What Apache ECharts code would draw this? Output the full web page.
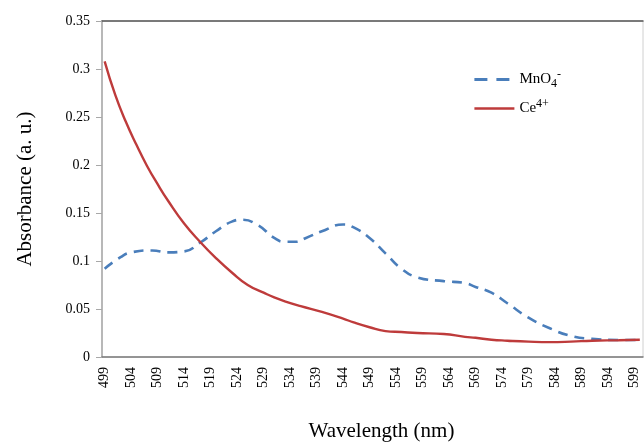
<!DOCTYPE html>
<html>
<head>
<meta charset="utf-8">
<script src="https://cdn.jsdelivr.net/npm/echarts@6/dist/echarts.min.js"></script>
<style>
  html, body { margin: 0; padding: 0; background: #fff; }
  #chart { width: 644px; height: 443px; }
</style>
</head>
<body>
<div id="chart"></div>
<script>
// wavelength ticks shown on the x axis (nm)
const wavelengthTicks = [499, 504, 509, 514, 519, 524, 529, 534, 539, 544, 549,
  554, 559, 564, 569, 574, 579, 584, 589, 594, 599];

// MnO4- : wavelength (nm) and absorbance (a. u.)
const mnWl = [499, 502, 504, 508, 511, 514, 517, 520, 523, 525, 528, 531, 533,
  535, 537, 540, 544, 546, 549, 552, 555, 558, 563, 567, 569, 572, 575, 579, 583,
  587, 591, 596, 600];
const mnAbs = [0.092, 0.104, 0.109, 0.111, 0.109, 0.110, 0.119, 0.131, 0.141, 0.143,
  0.137, 0.124, 0.120, 0.120, 0.124, 0.131, 0.138, 0.135, 0.124, 0.108, 0.092, 0.083,
  0.079, 0.077, 0.073, 0.067, 0.056, 0.041, 0.030, 0.022, 0.019, 0.0177, 0.0177];

// Ce4+
const ceWl = [499, 501, 503, 505, 507, 509, 511, 514, 517, 520, 523, 526, 529, 531,
  533, 536, 540, 544, 546, 549, 552, 555, 558, 563, 567, 569, 572, 575, 579, 583,
  587, 591, 596, 600];
const ceAbs = [0.308, 0.273, 0.245, 0.221, 0.199, 0.180, 0.1625, 0.139, 0.120, 0.103,
  0.088, 0.075, 0.067, 0.062, 0.058, 0.053, 0.047, 0.040, 0.036, 0.031, 0.027, 0.026,
  0.025, 0.024, 0.021, 0.020, 0.018, 0.017, 0.016, 0.0155, 0.016, 0.017, 0.0175, 0.018];

const serif = 'Liberation Serif';
const chart = echarts.init(document.getElementById('chart'));

const pairs = (xs, ys) => xs.map((w, i) => [w, ys[i]]);

chart.setOption({
  animation: false,
  backgroundColor: '#fff',
  grid: {
    left: 102, top: 21, right: 1, bottom: 86,
    outerBoundsMode: 'none',
    containLabel: false,
    show: true, borderColor: '#d0d0d0', borderWidth: 1
  },
  legend: {
    orient: 'vertical',
    left: 468, top: 64,
    itemWidth: 40, itemHeight: 12, itemGap: 8,
    itemStyle: { opacity: 0 },
    lineStyle: { width: 2.6 },
    data: [
      { name: 'MnO4', lineStyle: { width: 2.8, type: [13, 9] } },
      { name: 'Ce4+' }
    ],
    formatter: (name) => name === 'MnO4'
      ? '{b|MnO}{sub|4}{sup|-}'
      : '{b|Ce}{sup|4+}',
    textStyle: {
      fontFamily: serif, color: '#000',
      rich: {
        b: { fontFamily: serif, fontSize: 15, color: '#000' },
        sub: { fontFamily: serif, fontSize: 12, color: '#000', padding: [9, 0, 0, 0] },
        sup: { fontFamily: serif, fontSize: 12, color: '#000', padding: [0, 0, 9, 0] }
      }
    }
  },
  xAxis: [{
    type: 'value',
    min: 498.5, max: 600.6,
    name: 'Wavelength (nm)',
    nameLocation: 'middle',
    nameGap: 64,
    nameTextStyle: { fontFamily: serif, fontSize: 21, color: '#000', padding: [0, 0, 0, 18] },
    axisLine: { show: true, lineStyle: { color: '#7a7a7a', width: 1.5 } },
    axisTick: { show: false },
    splitLine: { show: false },
    axisLabel: {
      customValues: wavelengthTicks,
      rotate: 90,
      margin: 10,
      fontFamily: serif, fontSize: 14, color: '#000'
    }
  }, {
    type: 'value',
    position: 'top',
    min: 498.5, max: 600.6,
    axisLine: { show: true, lineStyle: { color: '#555', width: 1.5 } },
    axisTick: { show: false },
    axisLabel: { show: false },
    splitLine: { show: false }
  }],
  yAxis: {
    type: 'value',
    min: 0, max: 0.35, interval: 0.05,
    name: 'Absorbance (a. u.)',
    nameLocation: 'middle',
    nameGap: 66,
    nameTextStyle: { fontFamily: serif, fontSize: 21, color: '#000' },
    axisLine: { show: true, lineStyle: { color: '#a8a8a8', width: 1.5 } },
    axisTick: { show: true, inside: false, length: 6, lineStyle: { color: '#a8a8a8' } },
    splitLine: { show: false },
    axisLabel: { margin: 12, fontFamily: serif, fontSize: 14, color: '#000' }
  },
  series: [{
    name: 'MnO4',
    type: 'line',
    smooth: true,
    symbol: 'none',
    data: pairs(mnWl, mnAbs),
    lineStyle: { color: '#4a7ebb', width: 2.6, type: [10, 7] },
    itemStyle: { color: '#4a7ebb' }
  }, {
    name: 'Ce4+',
    type: 'line',
    smooth: true,
    symbol: 'none',
    data: pairs(ceWl, ceAbs),
    lineStyle: { color: '#be3b3b', width: 2.4 },
    itemStyle: { color: '#be3b3b' }
  }]
});
</script>
</body>
</html>
